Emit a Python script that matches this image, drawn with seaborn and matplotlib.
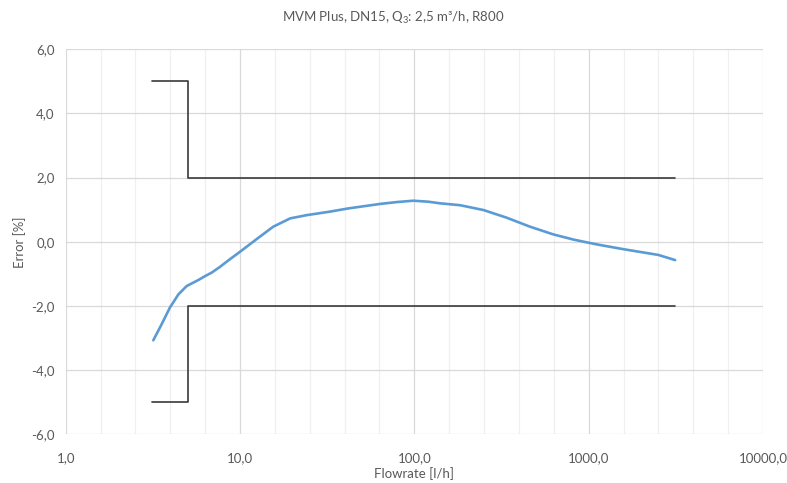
import matplotlib
matplotlib.use("Agg")
import matplotlib.pyplot as plt
import seaborn as sns
import pandas as pd
from matplotlib.ticker import FixedLocator, NullFormatter

# ---- data ----
flow = [3.18, 3.55, 3.96, 4.43, 4.94, 5.77, 6.3, 6.88, 7.68, 8.57, 10.0, 12.5, 15.5, 19.4, 24.1,
        32.8, 41.8, 63.6, 80.0, 98.7, 120, 140, 183, 249, 339, 461, 627, 817, 1000,
        1162, 1581, 2512, 3133]
error = [-3.07, -2.57, -2.05, -1.64, -1.38, -1.19, -1.07, -0.96, -0.78, -0.58, -0.31, 0.09, 0.47,
         0.73, 0.83, 0.94, 1.04, 1.18, 1.24, 1.28, 1.25, 1.20, 1.14, 0.99, 0.75, 0.47, 0.23,
         0.07, -0.03, -0.10, -0.23, -0.41, -0.57]
limit_x = [3.125, 5.0, 5.0, 3125.0]
upper_limit = [5.0, 5.0, 2.0, 2.0]
lower_limit = [-5.0, -5.0, -2.0, -2.0]
x_ticks = [1, 10, 100, 1000, 10000]
x_tick_labels = ["1,0", "10,0", "100,0", "1000,0", "10000,0"]
y_ticks = [-6, -4, -2, 0, 2, 4, 6]
y_tick_labels = ["-6,0", "-4,0", "-2,0", "0,0", "2,0", "4,0", "6,0"]

sns.set_theme(style="white")
plt.rcParams["font.family"] = ["Lato", "DejaVu Sans"]
plt.rcParams["mathtext.fontset"] = "custom"
plt.rcParams["mathtext.rm"] = "Lato"
plt.rcParams["mathtext.it"] = "Lato"
plt.rcParams["axes.unicode_minus"] = False

txt = "#595959"
fig = plt.figure(figsize=(7.87, 4.83), dpi=100)
ax = fig.add_axes([0.0835, 0.1008, 0.886, 0.7972])

df_curve = pd.DataFrame({"x": flow, "y": error})
df_up = pd.DataFrame({"x": limit_x, "y": upper_limit})
df_lo = pd.DataFrame({"x": limit_x, "y": lower_limit})

sns.lineplot(data=df_up, x="x", y="y", sort=False, estimator=None, ax=ax,
             color="#3a3a3a", linewidth=1.2, zorder=3)
sns.lineplot(data=df_lo, x="x", y="y", sort=False, estimator=None, ax=ax,
             color="#3a3a3a", linewidth=1.2, zorder=3)
line_kw = dict(solid_capstyle="round", solid_joinstyle="round")
sns.lineplot(data=df_curve, x="x", y="y", sort=False, estimator=None, ax=ax,
             color="#5B9BD5", linewidth=1.9, zorder=4, **line_kw)

ax.set_xscale("log")
ax.set_xlim(1, 10000)
ax.set_ylim(-6, 6)

ax.xaxis.set_major_locator(FixedLocator(x_ticks))
ax.set_xticklabels(x_tick_labels)
minor = [10 ** (k / 5) for k in range(0, 21) if k % 5 != 0]
ax.xaxis.set_minor_locator(FixedLocator(minor))
ax.xaxis.set_minor_formatter(NullFormatter())
ax.set_yticks(y_ticks)
ax.set_yticklabels(y_tick_labels)

ax.grid(True, which="major", color="#D9D9D9", linewidth=0.9, zorder=0)
ax.grid(True, which="minor", axis="x", color="#F0F0F0", linewidth=0.9, zorder=0)
ax.set_axisbelow(True)
for s in ax.spines.values():
    s.set_visible(False)

ax.tick_params(axis="both", which="both", length=0, colors=txt, labelsize=9.5)
ax.tick_params(axis="x", pad=13)
ax.tick_params(axis="y", pad=8)

ax.set_xlabel("Flowrate [l/h]", color=txt, fontsize=9.5, labelpad=2)
ax.set_ylabel("Error [%]", color=txt, fontsize=9.5, labelpad=4)

fig.text(0.5, 0.962, "MVM Plus, DN15, Q$_3$: 2,5 m³/h, R800", ha="center", va="center",
         color=txt, fontsize=9.5)

fig.savefig("out.png", dpi=100, facecolor="white")
